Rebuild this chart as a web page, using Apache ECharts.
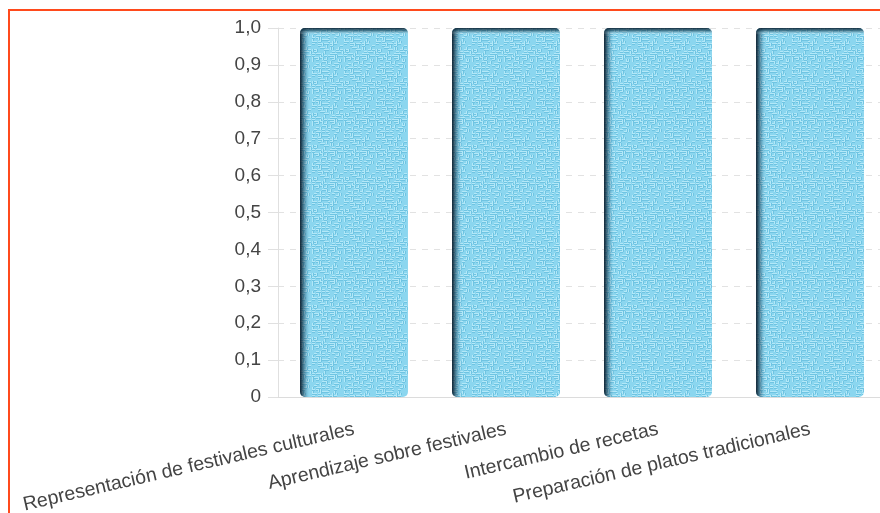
<!DOCTYPE html>
<html>
<head>
<meta charset="utf-8">
<script src="https://cdn.jsdelivr.net/npm/echarts@6/dist/echarts.min.js"></script>
<style>
  html, body { margin: 0; padding: 0; background: #fff; overflow: hidden; }
  .frame {
    position: absolute;
    left: 8px;
    top: 9px;
    width: 900px;
    height: 560px;
    border: 2px solid #ff4a1c;
  }
  #chart { width: 900px; height: 560px; }
</style>
</head>
<body>
<div class="frame"><div id="chart"></div></div>
<script>
// data
var categories = [
  "Representación de festivales culturales",
  "Aprendizaje sobre festivales",
  "Intercambio de recetas",
  "Preparación de platos tradicionales"
];
var values = [1, 1, 1, 1];

// embossed-paper look for the bars (deterministic hash, not data)
function makeTexture() {
  var n = 16, s = 2;
  var c = document.createElement("canvas");
  c.width = n * s;
  c.height = n * s;
  var ctx = c.getContext("2d");
  ctx.fillStyle = "#8bd6ef";
  ctx.fillRect(0, 0, n * s, n * s);
  for (var y = 0; y < n; y++) {
    for (var x = 0; x < n; x++) {
      var h = Math.abs(Math.sin(x * 12.9898 + y * 78.233) * 43758.5453) % 1;
      if (h < 0.2) {
        ctx.fillStyle = "#b3e8f8";
        ctx.fillRect(x * s, y * s, s + 1, 1);
        ctx.fillStyle = "#6fc4e2";
        ctx.fillRect(x * s, y * s + 1, s + 1, 1);
      } else if (h > 0.82) {
        ctx.fillStyle = "#b3e8f8";
        ctx.fillRect(x * s, y * s, 1, s + 1);
        ctx.fillStyle = "#6fc4e2";
        ctx.fillRect(x * s + 1, y * s, 1, s + 1);
      }
    }
  }
  return c;
}

var chart = echarts.init(document.getElementById("chart"));

var labelFont = "Liberation Sans, Arial, sans-serif";

var option = {
  animation: false,
  grid: { left: 268, right: 24, top: 17, bottom: 174 },
  xAxis: {
    type: "category",
    data: categories,
    axisLine: { show: true, lineStyle: { color: "#dcdcdc" } },
    axisTick: { show: false },
    axisLabel: {
      rotate: 13,
      margin: 32,
      interval: 0,
      fontSize: 19.5,
      color: "#444",
      fontFamily: labelFont
    }
  },
  yAxis: {
    type: "value",
    min: 0,
    max: 1,
    interval: 0.1,
    axisLine: { show: true, lineStyle: { color: "#e0e0e0" } },
    axisTick: { show: true, length: 10, lineStyle: { color: "#e0e0e0" } },
    splitLine: { lineStyle: { color: "#e2e2e2", type: [6, 6] } },
    axisLabel: {
      margin: 17,
      fontSize: 19,
      color: "#444",
      fontFamily: labelFont,
      formatter: function (v) {
        if (v === 0) return "0";
        return v.toFixed(1).replace(".", ",");
      }
    }
  },
  series: [
    {
      type: "bar",
      data: values,
      barWidth: "71%",
      itemStyle: {
        color: { image: makeTexture(), repeat: "repeat" },
        borderRadius: 5
      }
    },
    {
      type: "bar",
      data: values,
      barWidth: "71%",
      barGap: "-100%",
      silent: true,
      itemStyle: {
        borderRadius: 5,
        color: new echarts.graphic.LinearGradient(0, 0, 1, 0, [
          { offset: 0, color: "rgba(5,20,35,0.95)" },
          { offset: 0.03, color: "rgba(10,40,60,0.55)" },
          { offset: 0.07, color: "rgba(40,90,120,0.12)" },
          { offset: 0.1, color: "rgba(255,255,255,0)" },
          { offset: 1, color: "rgba(255,255,255,0)" }
        ])
      }
    },
    {
      type: "bar",
      data: values,
      barWidth: "71%",
      barGap: "-100%",
      silent: true,
      itemStyle: {
        borderRadius: 5,
        color: new echarts.graphic.LinearGradient(0, 0, 0, 1, [
          { offset: 0, color: "rgba(5,20,35,0.85)" },
          { offset: 0.008, color: "rgba(20,60,80,0.55)" },
          { offset: 0.018, color: "rgba(255,255,255,0)" },
          { offset: 1, color: "rgba(255,255,255,0)" }
        ])
      }
    }
  ]
};

chart.setOption(option);
</script>
</body>
</html>
